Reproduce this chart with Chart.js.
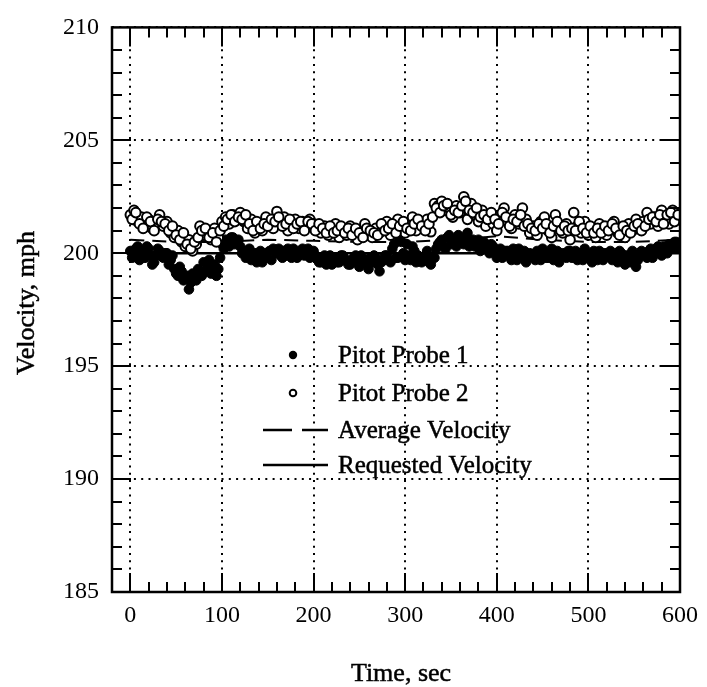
<!DOCTYPE html>
<html><head><meta charset="utf-8">
<script src="https://cdn.jsdelivr.net/npm/chart.js@4"></script>
<style>html,body{margin:0;padding:0;background:#fff}canvas{display:block}</style>
</head><body><canvas id="c" width="707" height="687"></canvas>
<script>
// sample times (s): readings every 2 s, split into two interleaved sets
const timesA = [];   // 0,4,...,600
for (let t = 0; t <= 600; t += 4) timesA.push(t);
const timesB = [];   // 2,6,...,598
for (let t = 2; t < 600; t += 4) timesB.push(t);

const probe1A = [
200.1,199.9,200.3,200.0,199.8,200.2,199.5,199.9,200.1,199.8,
200.0,199.7,199.3,199.0,199.2,198.9,198.4,199.1,198.8,199.2,
199.6,199.3,199.1,199.5,199.3,200.4,200.6,200.3,200.7,200.5,
200.3,200.1,199.9,199.7,200.0,199.8,199.6,199.9,200.1,200.2,
200.0,199.9,200.1,200.2,199.8,200.0,199.9,200.2,200.0,199.8,
200.1,199.8,199.6,199.9,199.7,199.5,199.8,199.6,199.9,199.7,
199.5,199.8,199.6,199.9,199.7,199.3,199.6,199.8,199.2,199.7,
199.9,199.6,200.4,199.8,200.5,199.7,199.9,200.3,199.6,199.8,
199.7,200.1,199.5,199.8,200.4,200.6,200.2,200.8,200.5,200.3,
200.7,200.4,200.9,200.5,200.3,200.6,200.2,200.4,200.0,200.3,
199.8,200.2,199.9,200.1,199.7,200.0,200.2,199.8,199.6,200.0,
199.9,200.1,199.7,200.0,199.8,200.2,199.9,199.6,200.0,199.8,
200.1,199.9,199.7,200.0,200.2,199.8,199.6,199.9,200.1,199.7,
199.9,200.1,199.8,199.6,200.0,199.5,199.8,200.1,199.4,199.9,
200.0,199.8,200.2,200.0,200.3,199.9,200.1,200.4,200.2,200.5,
200.3];
const probe1B = [
199.8,200.2,199.7,200.1,200.3,199.9,199.6,200.2,199.9,200.0,
199.5,199.9,199.1,199.4,198.8,199.0,198.7,198.9,199.3,199.0,
199.2,199.7,199.4,199.0,199.8,200.2,200.4,200.7,200.4,200.6,
200.0,199.8,200.2,199.9,199.6,200.1,199.8,200.0,199.7,200.1,
200.2,199.8,199.9,200.0,200.2,199.8,200.1,199.9,200.2,200.0,
199.9,199.6,199.8,199.5,199.9,199.7,199.6,199.9,199.7,199.5,
199.7,199.9,199.4,199.7,199.5,199.8,199.9,199.5,199.6,199.9,
199.7,200.2,199.8,200.6,200.0,200.4,199.7,200.1,199.9,199.6,
199.9,199.6,199.8,200.2,200.5,200.3,200.7,200.4,200.6,200.8,
200.5,200.7,200.3,200.6,200.4,200.1,200.5,200.2,200.4,200.1,
200.0,199.8,200.1,199.9,200.2,199.7,199.9,200.1,199.8,199.9,
199.7,199.9,200.2,199.8,200.0,199.7,200.1,199.8,199.9,200.1,
199.8,200.1,199.9,199.7,200.0,199.9,200.1,199.7,199.9,200.0,
200.0,199.7,199.9,200.1,199.7,199.9,199.6,199.8,199.7,200.1,
199.9,200.1,199.8,200.2,200.0,200.3,200.0,200.3,200.5,200.2];

const probe2A = [
201.7,201.9,201.4,201.6,201.2,201.5,201.1,201.3,201.7,201.2,
201.4,200.9,200.7,201.0,200.5,200.3,200.6,200.1,200.4,201.2,
200.8,201.0,200.6,201.1,200.7,201.4,201.6,201.3,201.7,201.5,
201.8,201.4,201.1,201.5,200.9,201.2,201.0,201.6,201.3,201.1,
201.85,201.4,201.6,201.0,201.3,201.5,201.1,201.4,201.2,201.5,
201.3,201.1,200.9,201.2,200.8,201.1,201.3,200.7,201.0,200.8,
201.2,200.9,200.6,201.0,201.3,200.8,200.7,201.1,200.9,201.2,
201.4,200.8,201.1,201.5,201.2,200.9,201.3,201.6,201.0,201.4,
201.2,201.5,200.95,202.2,202.1,202.3,201.9,202.0,201.6,202.1,
201.8,202.5,201.5,202.2,201.7,201.4,201.9,201.2,201.6,201.3,
201.0,201.5,202.0,201.4,201.1,201.7,201.3,202.0,201.5,200.9,
201.2,200.8,201.4,201.6,201.0,200.7,201.7,201.1,200.9,201.3,
200.6,201.8,201.2,200.9,201.4,200.8,201.1,200.7,201.3,201.0,
200.8,201.2,201.4,200.9,201.1,200.7,201.3,201.0,201.5,201.2,
201.4,201.8,201.3,201.6,201.2,201.9,201.5,201.3,201.9,201.6,
201.5];
const probe2B = [
201.5,201.8,201.3,201.1,201.6,201.4,201.0,201.5,201.4,201.3,
201.0,201.2,200.8,200.6,200.9,200.4,200.2,200.5,200.7,201.0,
201.1,200.7,200.9,200.5,201.0,201.2,201.5,201.7,201.4,201.6,
201.5,201.7,201.3,201.0,201.4,201.1,201.3,201.2,201.5,201.4,
201.6,201.2,201.3,201.5,201.1,201.3,201.4,201.0,201.4,201.3,
201.0,201.3,201.1,200.9,201.2,200.9,201.0,201.2,200.9,201.1,
200.8,201.1,200.9,200.7,201.1,201.0,200.9,200.8,201.3,201.0,
201.1,201.3,200.9,201.2,201.4,201.1,201.0,201.3,201.5,201.2,
201.0,201.3,201.6,202.0,201.8,202.1,202.2,201.7,201.9,201.8,
202.1,202.3,201.9,201.8,202.0,201.6,201.7,201.5,201.8,201.5,
201.3,201.8,201.6,201.2,201.5,201.4,201.7,201.2,201.3,201.1,
201.0,201.3,201.1,201.3,200.9,201.2,201.4,201.0,201.2,201.0,
201.1,201.0,201.4,201.1,200.9,201.2,200.9,201.1,200.9,201.2,
201.0,201.3,201.1,200.8,201.2,201.0,200.9,201.2,201.3,201.0,
201.2,201.5,201.6,201.4,201.7,201.3,201.7,201.8,201.4,201.7];

const avgTimes = [0,50,100,150,200,250,300,350,400,450,500,550,600];
const avgVel   = [200.6,200.5,200.5,200.6,200.55,200.5,200.5,200.6,200.75,200.6,200.5,200.5,200.6];

const reqTimes = [0,600];
const reqVel   = [200,200];

const xTicks = [0,100,200,300,400,500,600];
const yTicks = [185,190,195,200,205,210];

const legendLabels = ['Pitot Probe 1','Pitot Probe 2','Average Velocity','Requested Velocity'];
const xTitle = 'Time, sec';
const yTitle = 'Velocity, mph';

const FONT = '"Liberation Serif", "DejaVu Serif", serif';

const toXY = (xs, ys) => xs.map((x,i)=>({x:x, y:ys[i]}));

const decor = {
  id: 'decor',
  beforeDatasetsDraw(chart) {
    const {ctx, chartArea: a, scales: {x, y}} = chart;
    ctx.save();
    ctx.strokeStyle = '#000';
    ctx.lineWidth = 2;
    ctx.setLineDash([2, 5.3]);
    xTicks.forEach(v => {
      const px = Math.round(x.getPixelForValue(v));
      ctx.beginPath(); ctx.moveTo(px, a.top); ctx.lineTo(px, a.bottom); ctx.stroke();
    });
    yTicks.forEach(v => {
      const py = Math.round(y.getPixelForValue(v));
      ctx.beginPath(); ctx.moveTo(a.left, py); ctx.lineTo(a.right, py); ctx.stroke();
    });
    ctx.restore();
  },
  afterDatasetsDraw(chart) {
    const {ctx, chartArea: a, scales: {x, y}} = chart;
    ctx.save();
    ctx.strokeStyle = '#000';
    ctx.setLineDash([]);
    ctx.lineWidth = 2;
    for (let v = 186; v < 210; v++) {
      const major = v % 5 === 0;
      const L = major ? 19 : 10;
      const py = Math.round(y.getPixelForValue(v));
      ctx.beginPath();
      ctx.moveTo(a.left, py); ctx.lineTo(a.left + L, py);
      ctx.moveTo(a.right, py); ctx.lineTo(a.right - L, py);
      ctx.stroke();
    }
    for (let v = 0; v < 600; v += 20) {
      const major = v % 100 === 0;
      const L = major ? 19 : 10;
      const px = Math.round(x.getPixelForValue(v));
      ctx.beginPath();
      ctx.moveTo(px, a.bottom); ctx.lineTo(px, a.bottom - L);
      ctx.moveTo(px, a.top); ctx.lineTo(px, a.top + L);
      ctx.stroke();
    }
    ctx.lineWidth = 2.5;
    ctx.strokeRect(a.left, a.top, a.right - a.left, a.bottom - a.top);

    // legend
    ctx.fillStyle = '#000';
    ctx.font = '25px ' + FONT;
    ctx.textAlign = 'left';
    ctx.textBaseline = 'middle';
    const rows = [355, 393, 430, 465];
    const tx = 338;
    ctx.beginPath(); ctx.arc(293, rows[0], 4.2, 0, Math.PI*2); ctx.fill();
    ctx.lineWidth = 2;
    ctx.beginPath(); ctx.arc(293, rows[1], 3.3, 0, Math.PI*2); ctx.stroke();
    ctx.lineWidth = 2.4;
    ctx.beginPath(); ctx.moveTo(263, rows[2]); ctx.lineTo(292, rows[2]);
    ctx.moveTo(302, rows[2]); ctx.lineTo(328, rows[2]); ctx.stroke();
    ctx.beginPath(); ctx.moveTo(263, rows[3]); ctx.lineTo(328, rows[3]); ctx.stroke();
    ctx.lineWidth = 0.5;
    legendLabels.forEach((s, i) => { ctx.fillText(s, tx, rows[i] + 1); ctx.strokeText(s, tx, rows[i] + 1); });

    // titles
    ctx.font = '26px ' + FONT;
    ctx.textAlign = 'center';
    ctx.textBaseline = 'alphabetic';
    ctx.fillText(xTitle, 401, 681); ctx.strokeText(xTitle, 401, 681);
    ctx.translate(34, 303);
    ctx.rotate(-Math.PI/2);
    ctx.fillText(yTitle, 0, 0); ctx.strokeText(yTitle, 0, 0);
    ctx.restore();
  }
};

const openStyle = { pointRadius: 4.8, pointBackgroundColor: '#fff', pointBorderColor: '#000', pointBorderWidth: 2, showLine: false };
const fillStyle = { pointRadius: 4.8, pointBackgroundColor: '#000', pointBorderColor: '#000', pointBorderWidth: 1, showLine: false };

new Chart(document.getElementById('c'), {
  type: 'scatter',
  data: {
    datasets: [
      Object.assign({ label: legendLabels[1], data: toXY(timesA, probe2A).concat(toXY(timesB, probe2B)), order: 0 }, openStyle),
      Object.assign({ label: legendLabels[0], data: toXY(timesA, probe1A).concat(toXY(timesB, probe1B)), order: 1 }, fillStyle),
      { label: legendLabels[2], data: toXY(avgTimes, avgVel), order: 2, showLine: true,
        pointRadius: 0, borderColor: '#000', borderWidth: 2, borderDash: [14, 8], tension: 0 },
      { label: legendLabels[3], data: toXY(reqTimes, reqVel), order: 3, showLine: true,
        pointRadius: 0, borderColor: '#000', borderWidth: 2.4 }
    ]
  },
  options: {
    responsive: false,
    animation: false,
    events: [],
    layout: { padding: { top: 21, right: 22, left: 0, bottom: 0 } },
    plugins: { legend: { display: false }, tooltip: { enabled: false } },
    scales: {
      x: {
        type: 'linear', min: -20, max: 600,
        afterBuildTicks: s => { s.ticks = xTicks.map(v => ({ value: v })); },
        afterFit: s => { s.height = 95; },
        grid: { display: false, drawTicks: false },
        border: { display: false },
        ticks: { color: '#000', font: { family: FONT, size: 24 }, padding: 9, maxRotation: 0, autoSkip: false }
      },
      y: {
        type: 'linear', min: 185, max: 210,
        afterBuildTicks: s => { s.ticks = yTicks.map(v => ({ value: v })); },
        afterFit: s => { s.width = 112; },
        grid: { display: false, drawTicks: false },
        border: { display: false },
        ticks: { color: '#000', font: { family: FONT, size: 24 }, padding: 13, autoSkip: false }
      }
    }
  },
  plugins: [decor]
});
</script>
</body></html>
